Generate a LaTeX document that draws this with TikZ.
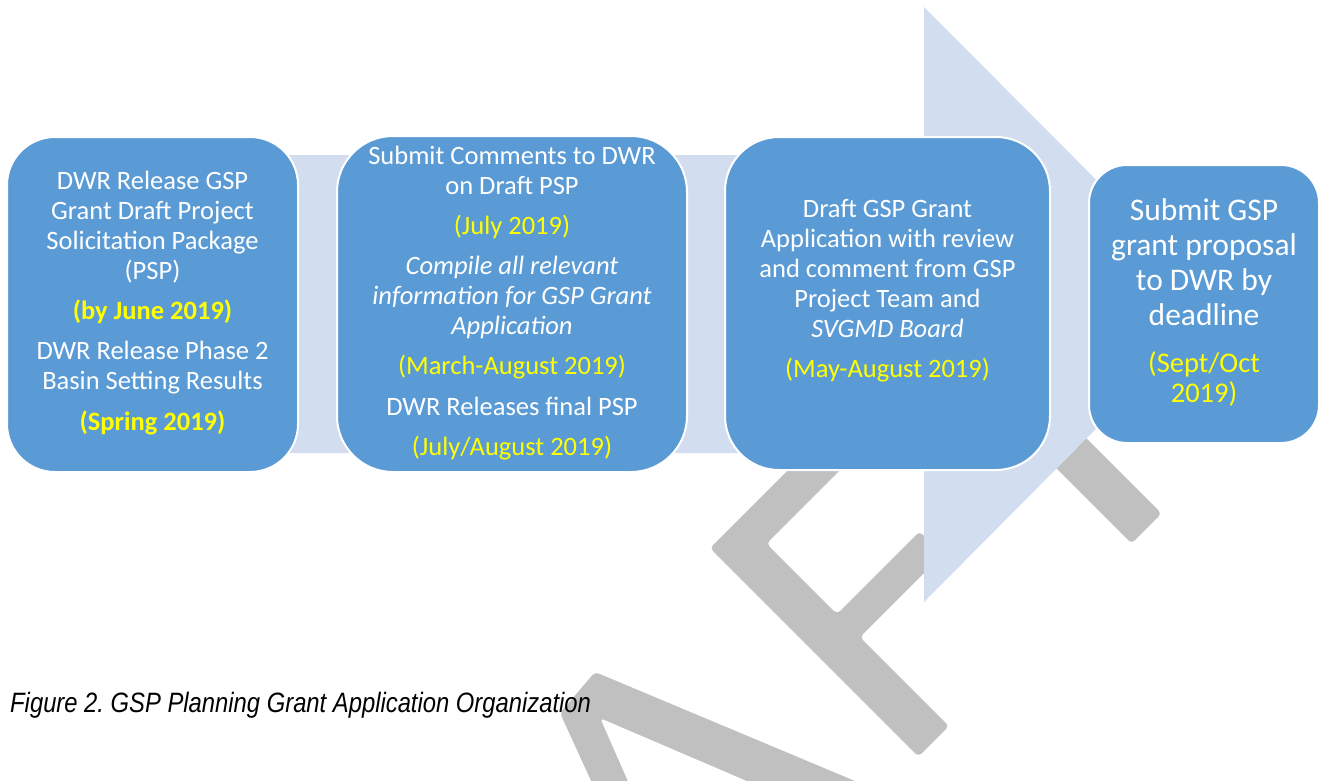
\documentclass[tikz,border=0pt]{standalone}
\usepackage{fontspec}
\setmainfont{Carlito}
\newfontfamily\capfont{Liberation Sans}
\usepackage{graphicx}
\definecolor{boxblue}{RGB}{91,155,213}
\definecolor{bandblue}{RGB}{210,222,239}
\definecolor{wmgrey}{RGB}{192,192,192}
\definecolor{dateyellow}{RGB}{255,255,0}
\tikzset{
  stepbox/.style={draw=white, line width=2pt, fill=boxblue, inner sep=0pt},
  steptext/.style={text=white, align=center, inner sep=0pt, anchor=north,
    font=\fontsize{26.5}{30}\selectfont},
  bigtext/.style={text=white, align=center, inner sep=0pt, anchor=north,
    font=\fontsize{31.5}{35}\selectfont},
  wmark/.style={fill=wmgrey, rounded corners=4pt},
  bandarrow/.style={fill=bandblue},
}
\newcommand{\dt}[1]{\textcolor{dateyellow}{#1}}
\frenchspacing
\begin{document}
\begin{tikzpicture}[x=1pt,y=-1pt]
\useasboundingbox (0,0) rectangle (1320,780);
\clip (0,0) rectangle (1320,780);
% watermark letters (A, F, T)
\fill[wmark] (609,820) -- (560,713) -- (595,672) -- (948,820) -- (838,820) -- (600,718) -- (645,820) -- cycle;
\fill[wmark] (710,548) -- (844,414) -- (870,440) -- (766.5,543.5) -- (837,614) -- (919.5,531.5)
  -- (942.5,554.5) -- (860,637) -- (949,726) -- (918.5,756.5) -- cycle;
\fill[wmark] (883,375) -- (993,265) -- (1014,286) -- (974,326) -- (1161.5,513.5) -- (1131.5,543.5)
  -- (944,356) -- (904,396) -- cycle;
% background arrow
\fill[bandarrow] (30,155) -- (924,155) -- (924,7) -- (1220,304) -- (924,602) -- (924,453) -- (30,453) -- cycle;
% boxes
\node[stepbox, rounded corners=48pt, minimum width=291pt, minimum height=335pt] (b1) at (152.5,304.5) {};
\node[stepbox, rounded corners=56pt, minimum width=350pt, minimum height=336pt] (b2) at (512,304) {};
\node[stepbox, rounded corners=54pt, minimum width=325pt, minimum height=333pt] (b3) at (887.5,303.5) {};
\node[stepbox, rounded corners=38pt, minimum width=230pt, minimum height=278pt] (b4) at (1204,304) {};
% texts
\node[steptext] (t1) at (152.5,168) {\strut DWR Release GSP\\ Grant Draft Project\\ Solicitation Package\\ (PSP)\\[10pt]
  \dt{\textbf{(by June 2019)}}\\[10pt] DWR Release Phase 2\\ Basin Setting Results\\[11pt] \dt{\textbf{(Spring 2019)}}};
\node[steptext] (t2) at (512,143) {\strut Submit Comments to DWR\\ on Draft PSP\\[10pt] \dt{(July 2019)}\\[10pt]
  \textit{Compile all relevant}\\ \textit{information for GSP Grant}\\ \textit{Application}\\[10pt]
  \dt{(March-August 2019)}\\[11pt] DWR Releases final PSP\\[10pt] \dt{(July/August 2019)}};
\node[steptext] (t3) at (887.5,196) {\strut Draft GSP Grant\\ Application with review\\ and comment from GSP\\ Project Team and\\
  \textit{SVGMD Board}\\[10pt] \dt{(May-August 2019)}};
\node[bigtext] (t4) at (1204,195.5) {\strut Submit GSP\\ grant proposal\\ to DWR by\\ deadline\\[12pt]
  {\fontsize{28.5}{30}\selectfont\dt{(Sept/Oct}}\\[-5pt] {\fontsize{28.5}{30}\selectfont\dt{2019)}}};
% caption
\node[anchor=base west, inner sep=0pt] (cap) at (10,712) {\capfont\itshape\fontsize{28}{30}\selectfont\frenchspacing\scalebox{0.85}[1]{Figure 2. GSP Planning Grant Application Organization}};
\end{tikzpicture}
\end{document}
